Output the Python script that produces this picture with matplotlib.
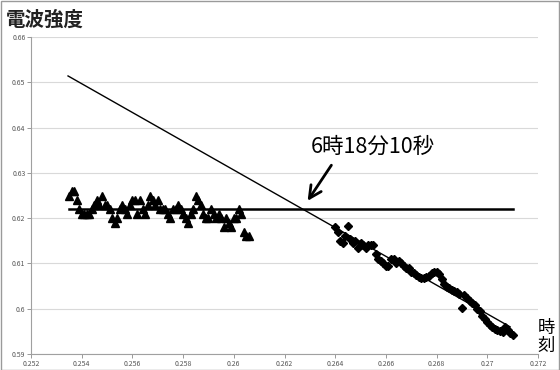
import numpy as np
import matplotlib.pyplot as plt
from matplotlib.ticker import FuncFormatter

plt.rcParams['font.family'] = ['Noto Sans CJK JP', 'DejaVu Sans']

#### DATA #####
# triangle series (before the change)
tri_x = [0.2535, 0.2536, 0.2537, 0.2538, 0.2539, 0.2540, 0.2541, 0.2542, 0.2543, 0.2544,
         0.2545, 0.2546, 0.2547, 0.2548, 0.2549, 0.2550, 0.2551, 0.2552, 0.2553, 0.2554,
         0.2555, 0.2556, 0.2557, 0.2558, 0.2559, 0.2560, 0.2561, 0.2562, 0.2563, 0.2564,
         0.2565, 0.2566, 0.2567, 0.2568, 0.2569, 0.2570, 0.2571, 0.2572, 0.2573, 0.2574,
         0.2575, 0.2576, 0.2577, 0.2578, 0.2579, 0.2580, 0.2581, 0.2582, 0.2583, 0.2584,
         0.2585, 0.2586, 0.2587, 0.2588, 0.2589, 0.2590, 0.2591, 0.2592, 0.2593, 0.2594,
         0.2595, 0.2596, 0.2597, 0.2598, 0.2599, 0.2600, 0.2601, 0.2602, 0.2603, 0.2604,
         0.2605, 0.2606]
tri_y = [0.625, 0.626, 0.626, 0.624, 0.622, 0.621, 0.621, 0.621, 0.621, 0.622,
         0.623, 0.624, 0.623, 0.625, 0.623, 0.623, 0.622, 0.620, 0.619, 0.620,
         0.622, 0.623, 0.622, 0.621, 0.623, 0.624, 0.624, 0.621, 0.624, 0.622,
         0.621, 0.623, 0.625, 0.624, 0.623, 0.624, 0.622, 0.622, 0.622, 0.621,
         0.620, 0.622, 0.622, 0.623, 0.622, 0.621, 0.620, 0.619, 0.621, 0.622,
         0.625, 0.624, 0.623, 0.621, 0.620, 0.620, 0.622, 0.621, 0.620, 0.621,
         0.620, 0.618, 0.620, 0.619, 0.618, 0.620, 0.620, 0.622, 0.621, 0.617,
         0.616, 0.616]

# diamond series (after the change)
dia_x = [0.2640, 0.2641, 0.2642, 0.2643, 0.2644, 0.2645, 0.2646, 0.2647, 0.2648, 0.2649,
         0.2650, 0.2651, 0.2652, 0.2653, 0.2654, 0.2655, 0.2656, 0.2657, 0.2658, 0.2659,
         0.2660, 0.2661, 0.2662, 0.2663, 0.2664, 0.2665, 0.2666, 0.2667, 0.2668, 0.2669,
         0.2670, 0.2671, 0.2672, 0.2673, 0.2674, 0.2675, 0.2676, 0.2677, 0.2678, 0.2679,
         0.2680, 0.2681, 0.2682, 0.2683, 0.2684, 0.2685, 0.2686, 0.2687, 0.2688, 0.2689,
         0.2690, 0.2691, 0.2692, 0.2693, 0.2694, 0.2695, 0.2696, 0.2697, 0.2698, 0.2699,
         0.2700, 0.2701, 0.2702, 0.2703, 0.2704, 0.2705, 0.2706, 0.2707, 0.2708, 0.2709,
         0.2710]
dia_y = [0.6180, 0.6170, 0.6150, 0.6145, 0.6160, 0.6182, 0.6155, 0.6145, 0.6150, 0.6135,
         0.6145, 0.6140, 0.6135, 0.6140, 0.6140, 0.6140, 0.6120, 0.6110, 0.6105, 0.6100,
         0.6095, 0.6095, 0.6110, 0.6110, 0.6100, 0.6105, 0.6100, 0.6095, 0.6090, 0.6090,
         0.6080, 0.6078, 0.6075, 0.6070, 0.6068, 0.6068, 0.6070, 0.6073, 0.6078, 0.6080,
         0.6080, 0.6076, 0.6065, 0.6055, 0.6048, 0.6045, 0.6042, 0.6040, 0.6037, 0.6033,
         0.6002, 0.6030, 0.6024, 0.6016, 0.6013, 0.6008, 0.6000, 0.5995, 0.5983, 0.5978,
         0.5971, 0.5965, 0.5960, 0.5956, 0.5953, 0.5951, 0.5949, 0.5960, 0.5952, 0.5947,
         0.5943]

# fitted lines
trend_x = [0.25346, 0.2709]
trend_y = [0.6514, 0.5960]
level_x = [0.2535, 0.2710]
level_y = [0.622, 0.622]

x_ticks = [0.252, 0.254, 0.256, 0.258, 0.26, 0.262, 0.264, 0.266, 0.268, 0.27, 0.272]
y_ticks = [0.59, 0.6, 0.61, 0.62, 0.63, 0.64, 0.65, 0.66]

#### PLOT #####
fig = plt.figure(figsize=(5.6, 3.7), dpi=100)
ax = fig.add_axes([0.0554, 0.0432, 0.9053, 0.8568])

ax.plot(tri_x, tri_y, linestyle='none', marker='^', markersize=5.5, color='black')
ax.plot(dia_x, dia_y, linestyle='none', marker='D', markersize=4, color='black')
ax.plot(trend_x, trend_y, color='black', linewidth=1.0)
ax.plot(level_x, level_y, color='black', linewidth=1.8)

ax.set_xlim(0.252, 0.272)
ax.set_ylim(0.59, 0.66)
ax.set_xticks(x_ticks)
ax.set_yticks(y_ticks)
fmt = FuncFormatter(lambda v, p: '%g' % round(v, 4))
ax.xaxis.set_major_formatter(fmt)
ax.yaxis.set_major_formatter(fmt)
ax.tick_params(labelsize=5, colors='#888888', labelcolor='#555555', length=3, width=0.6)
ax.tick_params(axis='x', pad=1)
ax.tick_params(axis='y', pad=1)

ax.grid(axis='y', color='#d9d9d9', linewidth=0.8)
ax.set_axisbelow(True)
for side in ['top', 'right']:
    ax.spines[side].set_visible(False)
for side in ['left', 'bottom']:
    ax.spines[side].set_color('#a0a0a0')
    ax.spines[side].set_linewidth(0.8)

# labels and annotation
fig.text(0.01, 0.945, '電波強度', fontsize=14, fontweight='bold', color='#222222',
         va='center', ha='left')
fig.text(0.976, 0.09, '時\n刻', fontsize=12.5, va='center', ha='center', linespacing=1.0)
ax.text(0.26549, 0.6357, '6時18分10秒', fontsize=15.5, ha='center', va='center')
ax.annotate('', xy=(0.26285, 0.6233), xytext=(0.26391, 0.6322),
            arrowprops=dict(arrowstyle='->', lw=2, color='black', mutation_scale=22))

# outer frame
fig.patches.append(plt.Rectangle((0.001, 0.001), 0.997, 0.997, transform=fig.transFigure,
                                 fill=False, edgecolor='#9a9a9a', linewidth=1))

fig.savefig('out.png', dpi=100)
